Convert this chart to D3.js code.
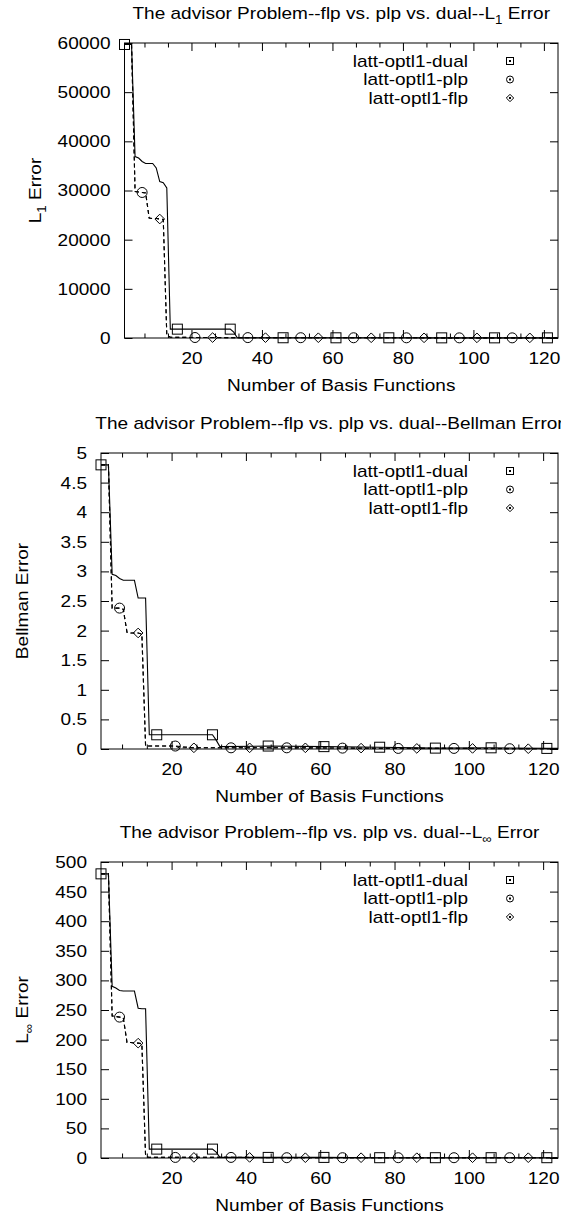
<!DOCTYPE html>
<html><head><meta charset="utf-8">
<script src="https://cdn.jsdelivr.net/npm/d3@7"></script>
<style>body{margin:0;background:#fff}svg{display:block}text{font-family:"Liberation Sans",Arial,sans-serif;fill:#000}</style>
</head><body>
<svg id="c" width="561" height="1221"></svg>
<script>
// ---------- data ----------
const seriesNames = ["latt-optl1-dual", "latt-optl1-plp", "latt-optl1-flp"];
const xTickValues = [20, 40, 60, 80, 100, 120];
const xDomain = [1, 124];

const l1Ticks = [0, 10000, 20000, 30000, 40000, 50000, 60000];
const bellmanTicks = [0, 0.5, 1, 1.5, 2, 2.5, 3, 3.5, 4, 4.5, 5];
const linfTicks = [0, 50, 100, 150, 200, 250, 300, 350, 400, 450, 500];

const dualMarkX = [1, 16, 31, 46, 61, 76, 91, 106, 121];
const plpMarkX = [6, 21, 36, 51, 66, 81, 96, 111];
const flpMarkX = [11, 26, 41, 56, 71, 86, 101, 116];

const dualX = [1,2,3,4,5,6,7,8,9,10,11,12,13,14,16,31,32,33,46,61,76,91,106,121,124];
const plpX  = [1,2,3,4,5,6,7,8,9,10,11,12,13,14,21,22,36,51,66,81,96,111,124];
const flpX  = [1,2,3,4,5,6,7,8,9,10,11,12,13,14,21,26,41,56,71,86,101,116,124];

const l1DualY = [59700,59700,59700,36900,36600,35900,35500,35500,35500,34600,31800,31600,30500,1800,1800,1800,1200,60,50,40,40,30,30,30,30];
const l1PlpY  = [59700,59700,59700,29800,29700,29600,29500,24400,24300,24300,24200,24100,600,150,100,90,80,60,50,40,30,30,30];
const l1FlpY  = [59700,59700,59700,29800,29700,29600,29500,24400,24300,24300,24200,24100,600,150,100,90,70,55,45,35,30,30,30];

const bellDualY = [4.8,4.8,4.8,2.95,2.93,2.88,2.85,2.85,2.85,2.85,2.55,2.55,2.55,0.24,0.24,0.24,0.15,0.04,0.05,0.04,0.03,0.015,0.02,0.01,0.01];
const bellPlpY  = [4.8,4.8,4.8,2.38,2.38,2.38,2.36,1.97,1.96,1.96,1.96,1.94,0.05,0.05,0.05,0.02,0.02,0.02,0.015,0.01,0.01,0.005,0.005];
const bellFlpY  = [4.8,4.8,4.8,2.38,2.38,2.38,2.36,1.97,1.96,1.96,1.96,1.94,0.05,0.05,0.05,0.02,0.02,0.02,0.015,0.01,0.01,0.005,0.005];

const linfDualY = [480,480,480,290,287,283,282,282,282,282,253,252,252,15,15,15,10,1,1,1,0.5,0.5,0.5,0.5,0.5];
const linfPlpY  = [480,480,480,240,239,238,237,195,195,194,194,193,3,1,1,1,1,0.5,0.5,0.5,0.5,0.5,0.5];
const linfFlpY  = [480,480,480,240,239,238,237,195,195,194,194,193,3,1,1,1,1,0.5,0.5,0.5,0.5,0.5,0.5];

// ---------- layout ----------
const panels = [
  {box:{l:124.5, r:558, t:43, b:338}, title:["The advisor Problem--flp vs. plp vs. dual--L", "1", " Error"],
   ylab:["L", "1", " Error"], ylabX:35, ticks:l1Ticks, ymax:60000, fmt:d3.format("d"),
   ys:[l1DualY, l1PlpY, l1FlpY]},
  {box:{l:101, r:558, t:453, b:749}, title:["The advisor Problem--flp vs. plp vs. dual--Bellman Error", "", ""],
   ylab:["Bellman Error", "", ""], ylabX:22, ticks:bellmanTicks, ymax:5, fmt:d=>String(d),
   ys:[bellDualY, bellPlpY, bellFlpY]},
  {box:{l:101, r:558, t:862, b:1158}, title:["The advisor Problem--flp vs. plp vs. dual--L", "\u221E", " Error"],
   ylab:["L", "\u221E", " Error"], ylabX:22, ticks:linfTicks, ymax:500, fmt:d3.format("d"),
   ys:[linfDualY, linfPlpY, linfFlpY]}
];
const xsList = [dualX, plpX, flpX];
const markList = [dualMarkX, plpMarkX, flpMarkX];
const dashes = [null, "4,3", "4,3"];
const FS = 17;
const STRETCH = 1.12;

const svg = d3.select("#c");

function richText(g, parts, size) {
  g.append("tspan").text(parts[0]);
  if (parts[1]) g.append("tspan").attr("font-size", size*0.7).attr("dy", size*0.3).text(parts[1]);
  if (parts[2]) g.append("tspan").attr("dy", parts[1] ? -size*0.3 : 0).text(parts[2]);
}

function marker(g, type, x, y, s, dot) {
  if (type === 0) g.append("rect").attr("x", x-s).attr("y", y-s).attr("width", 2*s).attr("height", 2*s);
  else if (type === 1) g.append("circle").attr("cx", x).attr("cy", y).attr("r", s);
  else g.append("path").attr("d", `M${x},${y-s*1.15}L${x+s*1.15},${y}L${x},${y+s*1.15}L${x-s*1.15},${y}Z`);
  if (dot) g.append("rect").attr("x", x-0.5).attr("y", y-0.5).attr("width", 1).attr("height", 1).attr("fill", "#000");
}

panels.forEach(p => {
  const b = p.box;
  const x = d3.scaleLinear().domain(xDomain).range([b.l, b.r]);
  const y = d3.scaleLinear().domain([0, p.ymax]).range([b.b, b.t]);
  const g = svg.append("g");

  const minorVals = [];
  for (let v = 20/3; v < xDomain[1]; v += 20/3) {
    if (Math.abs(v/20 - Math.round(v/20)) > 1e-6) minorVals.push(v);
  }
  const axB = d3.axisBottom(x).tickValues(xTickValues).tickSize(-8).tickPadding(14).tickFormat(d3.format("d"));
  const axT = d3.axisTop(x).tickValues(xTickValues).tickSize(-8).tickFormat("");
  const axL = d3.axisLeft(y).tickValues(p.ticks).tickSize(-8).tickPadding(14).tickFormat(p.fmt);
  const axR = d3.axisRight(y).tickValues(p.ticks).tickSize(-8).tickFormat("");
  const mB = d3.axisBottom(x).tickValues(minorVals).tickSize(-4.5).tickFormat("");
  const mT = d3.axisTop(x).tickValues(minorVals).tickSize(-4.5).tickFormat("");
  [[axB, `translate(0,${b.b})`], [axT, `translate(0,${b.t})`], [axL, `translate(${b.l},0)`], [axR, `translate(${b.r},0)`],
   [mB, `translate(0,${b.b})`], [mT, `translate(0,${b.t})`]].forEach(([a, tr]) => {
    const ag = g.append("g").attr("transform", tr).call(a);
    ag.select(".domain").remove();
    ag.selectAll("line").attr("stroke", "#000").attr("stroke-width", 1);
    ag.selectAll("text").attr("font-size", FS).attr("font-family", '"Liberation Sans",Arial,sans-serif').attr("fill", "#000");
  });
  g.append("rect").attr("x", b.l).attr("y", b.t).attr("width", b.r-b.l).attr("height", b.b-b.t)
    .attr("fill", "none").attr("stroke", "#000").attr("stroke-width", 1);

  const cx = (b.l + b.r)/2;
  richText(g.append("text").attr("x", cx).attr("y", b.t - 24).attr("text-anchor", "middle").attr("font-size", FS), p.title, FS);
  g.append("text").attr("x", cx).attr("y", b.b + 53).attr("text-anchor", "middle").attr("font-size", FS).text("Number of Basis Functions");
  richText(g.append("text").attr("transform", `translate(${p.ylabX + 6},${(b.t+b.b)/2}) rotate(-90)`)
    .attr("text-anchor", "middle").attr("font-size", FS), p.ylab, FS);

  const clip = "clip" + b.t;
  svg.append("clipPath").attr("id", clip).append("rect").attr("x", b.l).attr("y", b.t - 10).attr("width", b.r-b.l).attr("height", b.b-b.t+20);
  const sg = g.append("g").attr("clip-path", `url(#${clip})`);
  [2, 1, 0].forEach(i => {
    const xs = xsList[i], ys = p.ys[i];
    const pts = xs.map((v, k) => [v, ys[k]]);
    sg.append("path").datum(pts).attr("fill", "none").attr("stroke", "#000").attr("stroke-width", 1.1)
      .attr("stroke-dasharray", dashes[i]).attr("d", d3.line().x(d => x(d[0])).y(d => y(d[1])));
  });
  const mg = g.append("g").attr("fill", "none").attr("stroke", "#000").attr("stroke-width", 1);
  [0, 1, 2].forEach(i => {
    const xs = xsList[i], ys = p.ys[i];
    markList[i].forEach(mx => {
      const k = xs.indexOf(mx);
      if (k >= 0) marker(mg, i, x(mx), y(ys[k]), i === 2 ? 4.2 : 5, false);
    });
  });

  const lg = g.append("g");
  seriesNames.forEach((name, i) => {
    const ly = b.t + 18 + i*18.5;
    lg.append("text").attr("x", 468).attr("y", ly + 6).attr("text-anchor", "end").attr("font-size", FS).text(name);
    const mg2 = lg.append("g").attr("fill", "none").attr("stroke", "#000").attr("stroke-width", 1);
    marker(mg2, i, 510, ly, i === 2 ? 3.2 : 3.5, true);
  });
});

// horizontal stretch of glyphs (text direction) around each text's anchor point
svg.selectAll("text").each(function() {
  const t = d3.select(this);
  const tx = +t.attr("x") || 0, ty = +t.attr("y") || 0;
  const prev = t.attr("transform") || "";
  t.attr("transform", `${prev} translate(${tx},${ty}) scale(${STRETCH},1) translate(${-tx},${-ty})`);
});
</script>
</body></html>
